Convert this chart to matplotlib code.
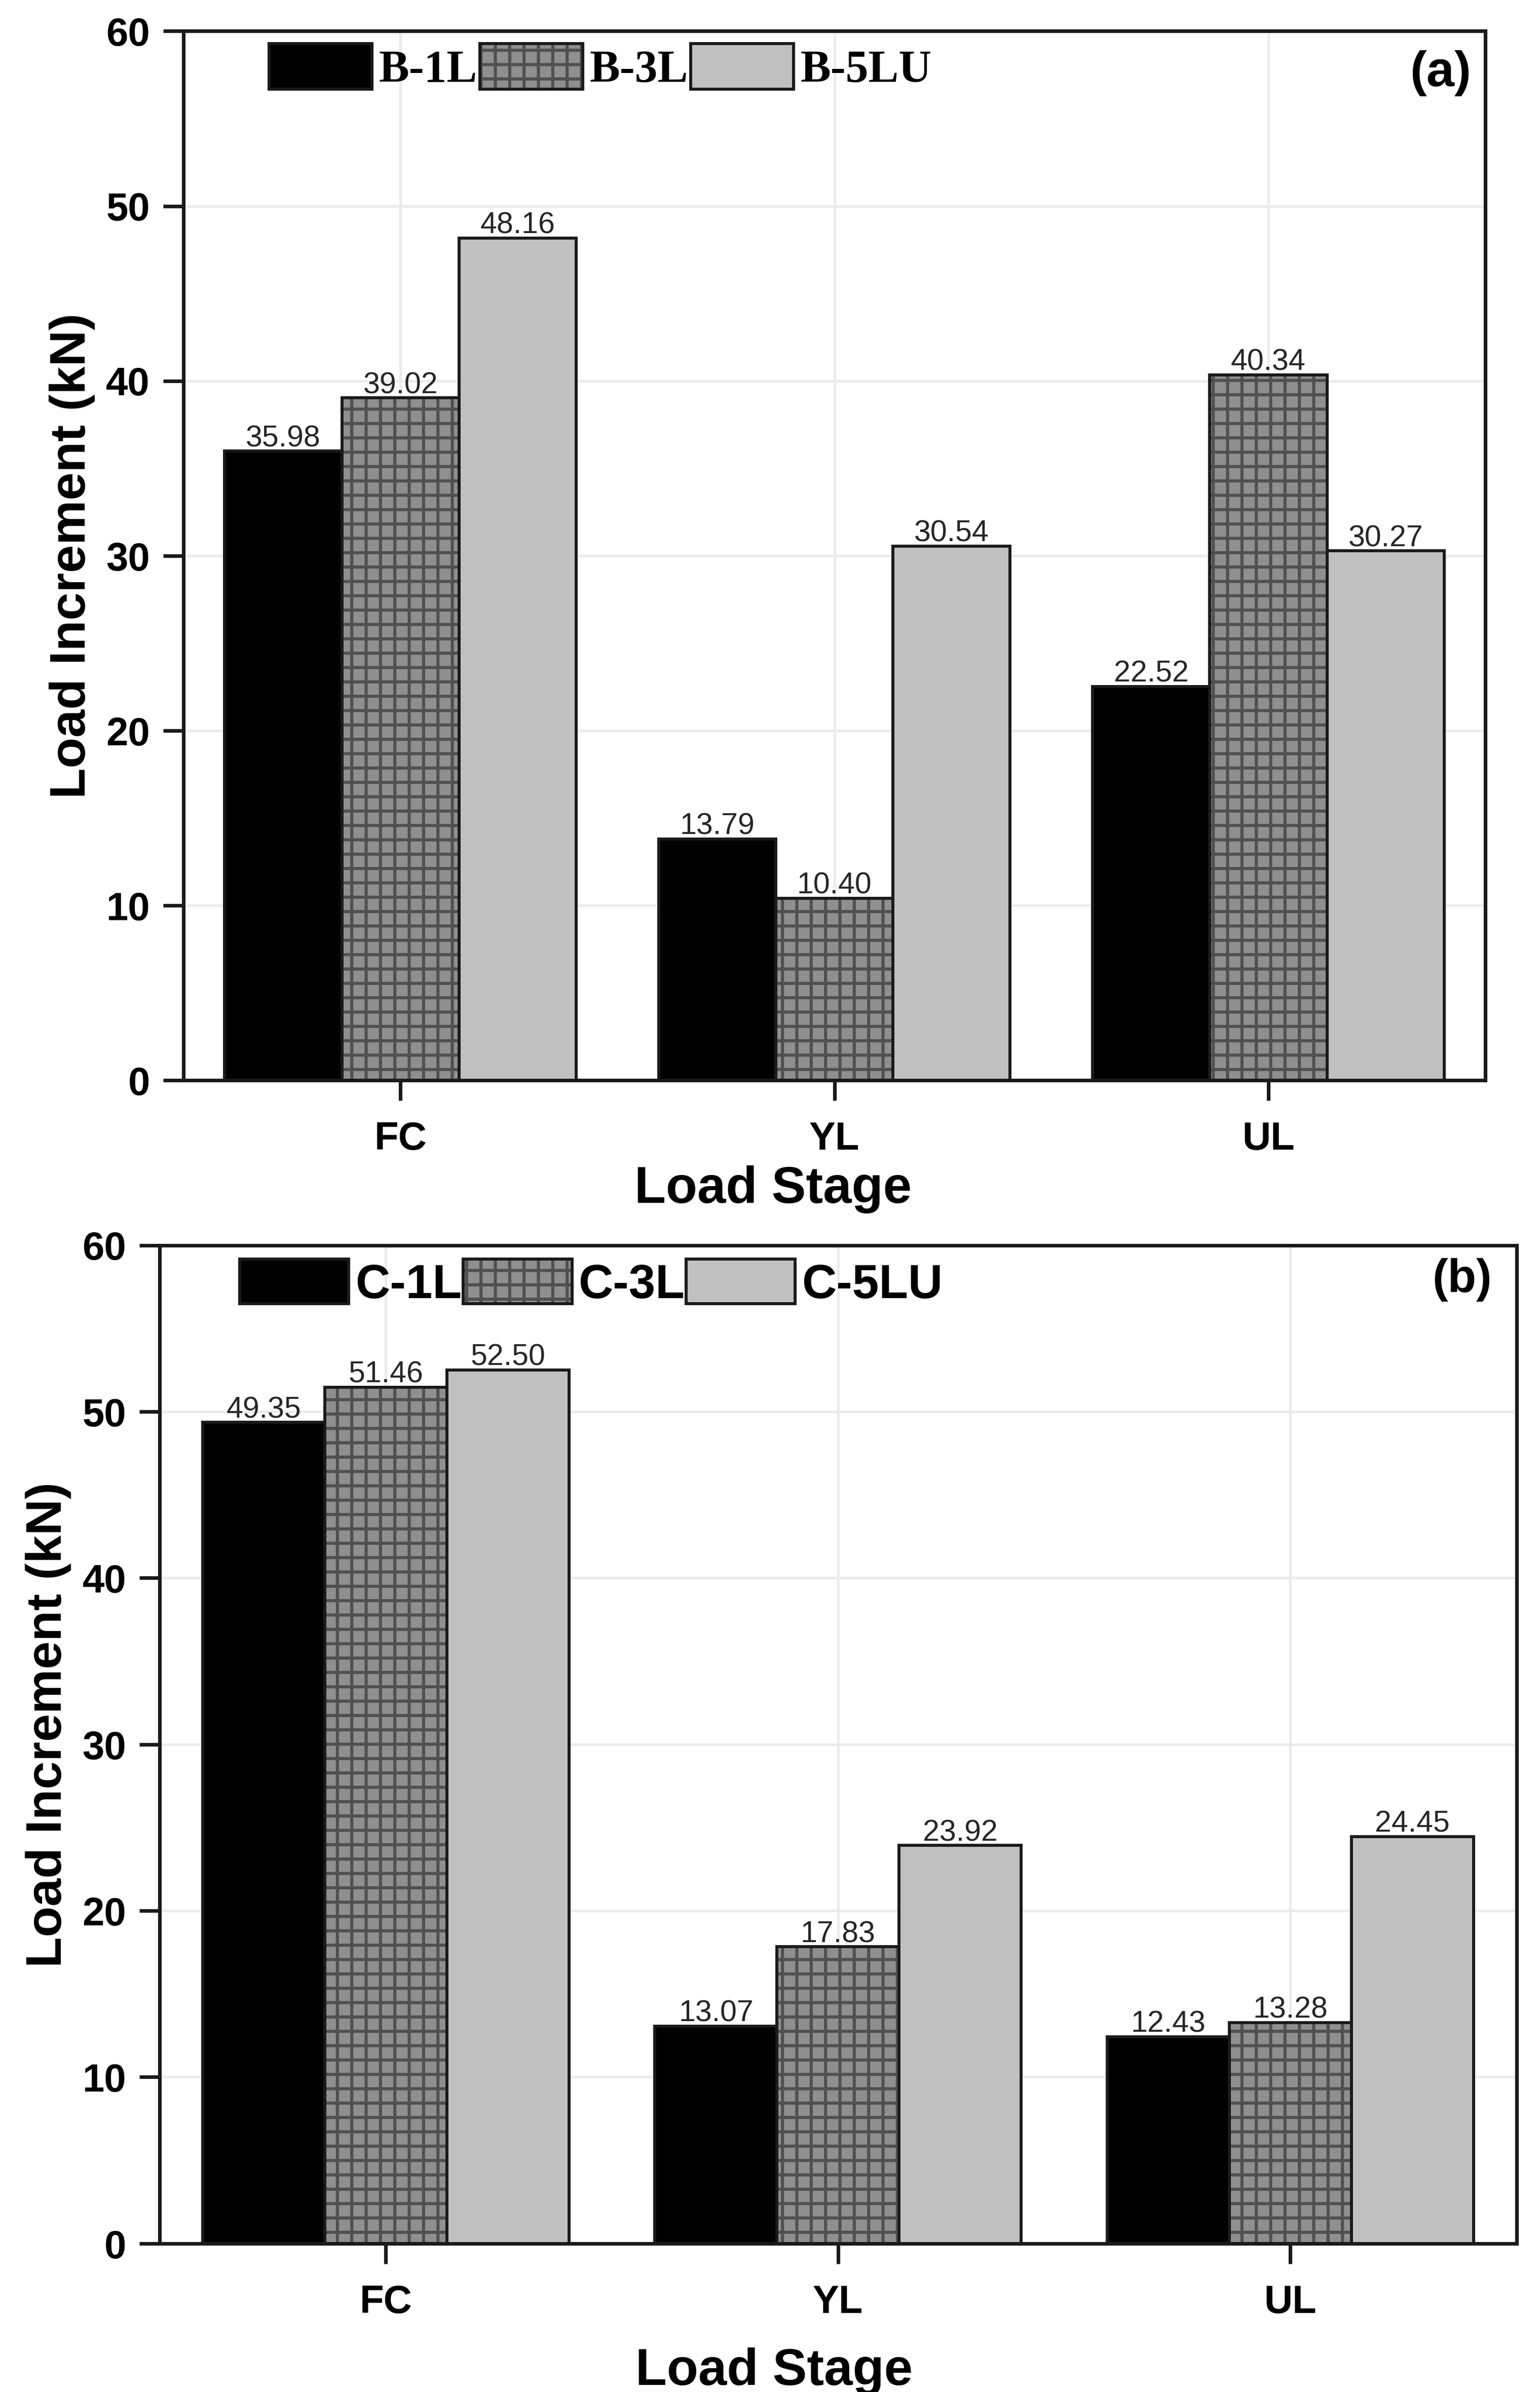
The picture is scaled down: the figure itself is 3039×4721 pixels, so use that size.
import matplotlib
matplotlib.use("Agg")
import matplotlib.pyplot as plt
import numpy as np
from matplotlib.patches import Patch
from matplotlib.legend_handler import HandlerTuple

# ---------------- data ----------------
stages = ["FC", "YL", "UL"]

names_a = ["B-1L", "B-3L", "B-5LU"]
b_1l = [35.98, 13.79, 22.52]
b_3l = [39.02, 10.40, 40.34]
b_5lu = [48.16, 30.54, 30.27]

names_b = ["C-1L", "C-3L", "C-5LU"]
c_1l = [49.35, 13.07, 12.43]
c_3l = [51.46, 17.83, 13.28]
c_5lu = [52.50, 23.92, 24.45]

y_ticks = [0, 10, 20, 30, 40, 50, 60]

# ---------------- style ----------------
DPI = 170
EDGE = "#1a1a1a"
HATCH_BG = "#8f8f8f"
HATCH_LINE = "#505050"
LIGHT = "#c0c0c0"
BAR_W = 0.27

plt.rcParams.update({
    "font.family": ["Liberation Sans", "DejaVu Sans"],
    "font.weight": "bold",
    "hatch.linewidth": 2.6,
})

fig = plt.figure(figsize=(3039.4 / DPI, 4721.4 / DPI), dpi=DPI)
ax_a = fig.add_axes([0.1191, 0.5484, 0.8453, 0.4385])
ax_b = fig.add_axes([0.1037, 0.0621, 0.8809, 0.4173])


def draw(ax, names, series, legend_font, legend_anchor, hl, hh, htp, csp,
         tag, tag_xy, tag_size, ylabelpad, xlabelpad, ylabel_y):
    x = np.arange(len(stages))
    handles = []
    styles = ["black", "hatch", "light"]
    for i, (name, vals) in enumerate(zip(names, series)):
        pos = x + (i - 1) * BAR_W
        if styles[i] == "hatch":
            ax.bar(pos, vals, BAR_W, color=HATCH_BG, edgecolor=HATCH_LINE,
                   linewidth=0, hatch="+", zorder=2)
            cont = ax.bar(pos, vals, BAR_W, fill=False, edgecolor=EDGE,
                          linewidth=2.5, zorder=3)
            handles.append((Patch(facecolor=HATCH_BG, edgecolor=HATCH_LINE,
                                  hatch="+", linewidth=0),
                            Patch(fill=False, edgecolor=EDGE, linewidth=2.5)))
        else:
            face = "black" if styles[i] == "black" else LIGHT
            cont = ax.bar(pos, vals, BAR_W, color=face, edgecolor=EDGE,
                          linewidth=2.5, zorder=3)
            handles.append(Patch(facecolor=face, edgecolor=EDGE, linewidth=2.5))
        ax.bar_label(cont, labels=[f"{v:.2f}" for v in vals], padding=-1,
                     fontsize=25, fontweight="normal", color="#262626")

    ax.set_xlim(-0.5, 2.5)
    ax.set_ylim(0, 60)
    ax.set_xticks(x)
    ax.set_xticklabels(stages)
    ax.set_yticks(y_ticks)
    ax.grid(True, color="#ebebeb", linewidth=2.2)
    ax.set_axisbelow(True)
    for s in ax.spines.values():
        s.set_linewidth(3)
        s.set_color(EDGE)
    ax.tick_params(axis="both", direction="out", length=17, width=3,
                   color=EDGE, labelsize=33)
    ax.tick_params(axis="y", pad=11)
    ax.tick_params(axis="x", pad=17)
    ax.set_xlabel("Load Stage", fontsize=43, fontweight="bold",
                  labelpad=xlabelpad)
    ax.xaxis.label.set_x(0.453)
    ax.set_ylabel("Load Increment (kN)", fontsize=42, fontweight="bold",
                  labelpad=ylabelpad)
    ax.yaxis.label.set_y(ylabel_y)

    ax.legend(handles, names, loc="upper left", bbox_to_anchor=legend_anchor,
              ncol=3, frameon=False, prop=legend_font, borderpad=0,
              borderaxespad=0, handlelength=hl, handleheight=hh,
              handletextpad=htp, columnspacing=csp,
              handler_map={tuple: HandlerTuple(ndivide=1, pad=0)})
    ax.text(tag_xy[0], tag_xy[1], tag, transform=ax.transAxes, ha="right",
            va="center", fontsize=tag_size, fontweight="bold")


draw(ax_a, names_a, [b_1l, b_3l, b_5lu],
     dict(family=["Liberation Serif", "DejaVu Serif"], weight="bold", size=38),
     (0.0658, 0.988), 2.26, 1.16, 0.15, 0.06,
     "(a)", (0.989, 0.960), 42, 9, 6, 0.5)

draw(ax_b, names_b, [c_1l, c_3l, c_5lu],
     dict(family=["Liberation Sans", "DejaVu Sans"], weight="bold", size=40),
     (0.059, 0.986), 2.28, 1.06, 0.13, 0.03,
     "(b)", (0.982, 0.9655), 39, 9, 22, 0.52)

fig.savefig("out.png", dpi=DPI)
